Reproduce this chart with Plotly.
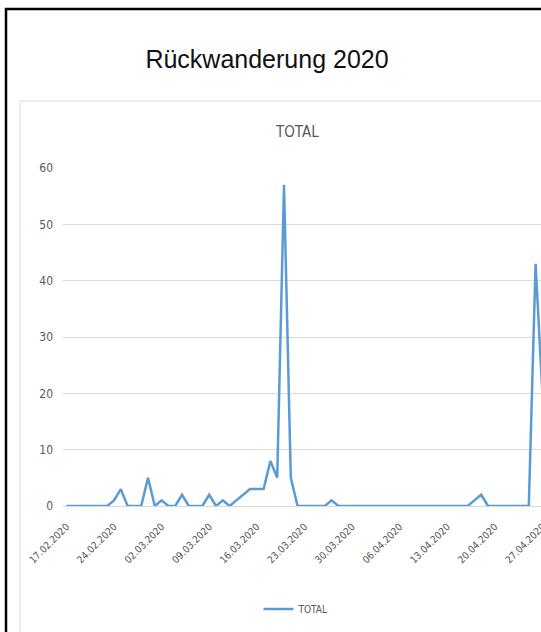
import pandas as pd
import plotly.graph_objects as go

# ---- data ----
start_date = "2020-02-17"
total_values = [0, 0, 0, 0, 0, 0, 0, 1, 3, 0, 0, 0, 5, 0, 1, 0, 0, 2, 0, 0,
                0, 2, 0, 1, 0, 1, 2, 3, 3, 3, 8, 5, 57, 5, 0, 0, 0, 0, 0, 1,
                0, 0, 0, 0, 0, 0, 0, 0, 0, 0, 0, 0, 0, 0, 0, 0, 0, 0, 0, 0,
                1, 2, 0, 0, 0, 0, 0, 0, 0, 43, 20]
dates = pd.date_range(start_date, periods=len(total_values), freq="D")
y_ticks = [0, 10, 20, 30, 40, 50, 60]
series_name = "TOTAL"
main_title = "Rückwanderung 2020"

# ---- geometry (pixels) ----
W, H = 580, 632
ML, MR, MT, MB = 63, 0, 168, 126
PW, PH = W - ML - MR, H - MT - MB


def px_x(x):
    return (x - ML) / PW


def px_y(y):
    return (H - MB - y) / PH


narrow = "Liberation Sans Narrow, DejaVu Sans Condensed, Arial Narrow, Liberation Sans, sans-serif"
gray = "#595959"
grid = "#d9d9d9"

fig = go.Figure()
fig.add_trace(go.Scatter(
    x=dates, y=total_values, mode="lines", name=series_name,
    line=dict(color="#5b9bd5", width=2.5), cliponaxis=True,
))

day_px = 6.8
x_left = pd.Timestamp(start_date) - pd.Timedelta(hours=12)
x_right = x_left + pd.Timedelta(days=PW / day_px)

fig.update_layout(
    width=W, height=H,
    margin=dict(l=ML, r=MR, t=MT, b=MB, pad=0),
    paper_bgcolor="white", plot_bgcolor="white",
    title=dict(text=main_title, x=267 / W, xref="container", xanchor="center",
               y=1 - 59 / H, yref="container", yanchor="middle",
               font=dict(family="Liberation Sans, Arial, sans-serif", size=25, color="#111111")),
    showlegend=True,
    legend=dict(orientation="h", x=px_x(296), xanchor="center", y=px_y(609), yanchor="middle",
                font=dict(family=narrow, size=10, color=gray), bgcolor="rgba(0,0,0,0)",
                itemwidth=30),
    xaxis=dict(type="date", range=[x_left, x_right], tick0=start_date, dtick=7 * 86400000,
               tickformat="%d.%m.%Y", tickangle=-45, showgrid=False, showline=False,
               ticks="", zeroline=False, ticklabelstandoff=12,
               tickfont=dict(family=narrow, size=10, color="#505050")),
    yaxis=dict(range=[0, 60], tickvals=y_ticks, showgrid=True, gridcolor=grid, gridwidth=1,
               zeroline=True, zerolinecolor=grid, zerolinewidth=1, showline=False, ticks="",
               ticklabelstandoff=9, tickfont=dict(family=narrow, size=12, color=gray)),
    annotations=[dict(text=series_name, xref="paper", yref="paper", x=px_x(296.7), y=px_y(132),
                      xanchor="center", yanchor="middle", showarrow=False,
                      font=dict(family=narrow, size=15, color="#595959"))],
    shapes=[
        dict(type="rect", xref="paper", yref="paper", x0=px_x(6), x1=px_x(W + 20),
             y0=px_y(H + 20), y1=px_y(9), line=dict(color="black", width=2.5), layer="below"),
        dict(type="rect", xref="paper", yref="paper", x0=px_x(20), x1=px_x(W + 20),
             y0=px_y(H + 20), y1=px_y(101), line=dict(color="#d9d9d9", width=1), layer="below"),
    ],
)

fig.write_html("out.html", post_script=(
    "document.documentElement.style.overflow='hidden';"
    "document.body.style.overflow='hidden';"
    "document.body.style.margin='0';"
))
